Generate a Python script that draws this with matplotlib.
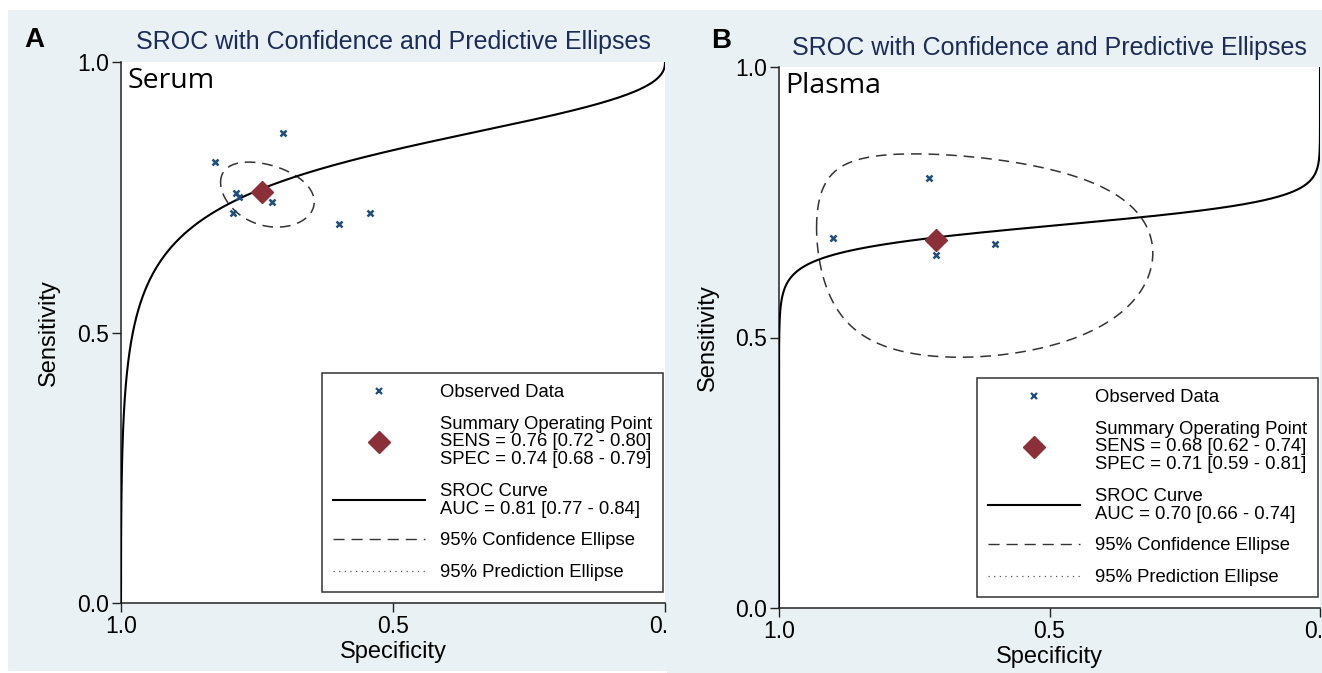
import numpy as np
import matplotlib
matplotlib.use("Agg")
from matplotlib import pyplot as plt
from matplotlib.lines import Line2D
from matplotlib.patches import Rectangle

plt.rcParams['font.family'] = ['Liberation Sans', 'DejaVu Sans']

# observed study data (specificity, sensitivity)
serum_spec = [0.703, 0.828, 0.789, 0.783, 0.741, 0.723, 0.795, 0.599, 0.542]
serum_sens = [0.869, 0.816, 0.757, 0.750, 0.752, 0.741, 0.720, 0.700, 0.720]
plasma_spec = [0.723, 0.901, 0.710, 0.601]
plasma_sens = [0.794, 0.683, 0.653, 0.673]

# summary operating points
serum_summary = (0.74, 0.76)
plasma_summary = (0.71, 0.68)

# SROC curve: logit(sens) = a + b * logit(1 - spec)
serum_sroc = (1.636, 0.43)
plasma_sroc = (0.877, 0.112)

# confidence ellipse in logit space: half-width spec, half-width sens, correlation
serum_ell = (0.45, 0.33, 0.30)
plasma_ell = (1.70, 0.90, 0.12)

serum_legend = ["Observed Data",
                "Summary Operating Point\nSENS = 0.76 [0.72 - 0.80]\nSPEC = 0.74 [0.68 - 0.79]",
                "SROC Curve\nAUC = 0.81 [0.77 - 0.84]",
                "95% Confidence Ellipse",
                "95% Prediction Ellipse"]
plasma_legend = ["Observed Data",
                 "Summary Operating Point\nSENS = 0.68 [0.62 - 0.74]\nSPEC = 0.71 [0.59 - 0.81]",
                 "SROC Curve\nAUC = 0.70 [0.66 - 0.74]",
                 "95% Confidence Ellipse",
                 "95% Prediction Ellipse"]

BG = '#e9f1f4'
NAVY = '#1c2b58'
BLUE = '#1f4e7a'
RED = '#8b3038'


def expit(z):
	return 1.0 / (1.0 + np.exp(-z))


def logit(p):
	return np.log(p / (1.0 - p))


def draw_panel(ax, spec, sens, summary, sroc, ell, labels, name):
	t = np.linspace(-60, 60, 6000)
	a, b = sroc
	ax.plot(1 - expit(t), expit(a + b * t), color='black', lw=1.5, zorder=3)

	ex, ey, rho = ell
	th = np.linspace(0, 2 * np.pi, 400)
	u, v = np.cos(th), np.sin(th)
	lx = logit(summary[0]) + ex * u
	ly = logit(summary[1]) + ey * (rho * u + np.sqrt(1 - rho ** 2) * v)
	ax.plot(expit(lx), expit(ly), color='#333333', lw=1.1, ls=(0, (7, 4.5)), zorder=2)

	ax.plot(spec, sens, ls='none', marker='x', color=BLUE, ms=5, mew=1.8, zorder=4)
	ax.plot([summary[0]], [summary[1]], ls='none', marker='D', color=RED, ms=11, zorder=5)

	ax.set_xlim(1, 0)
	ax.set_ylim(0, 1)
	ax.set_xticks([1.0, 0.5, 0.0], ['1.0', '0.5', '0.0'])
	ax.set_yticks([0.0, 0.5, 1.0], ['0.0', '0.5', '1.0'])
	ax.tick_params(direction='out', length=6.5, width=1.0, labelsize=16.5, pad=2, color='#222222')
	for s in ['top', 'right']:
		ax.spines[s].set_visible(False)
	for s in ['left', 'bottom']:
		ax.spines[s].set_linewidth(1.1)
		ax.spines[s].set_color('#222222')
	ax.set_xlabel('Specificity', fontsize=17)
	ax.set_ylabel('Sensitivity', fontsize=17)
	ax.xaxis.set_label_coords(0.5, -0.071)
	ax.yaxis.set_label_coords(-0.112, 0.5)
	ax.set_title('SROC with Confidence and Predictive Ellipses', color=NAVY, fontsize=18, pad=9)
	ax.text(0.012, 0.99, name, transform=ax.transAxes, ha='left', va='top',
	        fontsize=20.5, family='Open Sans', color='black')

	handles = [Line2D([], [], ls='none', marker='x', color=BLUE, ms=4, mew=1.6),
	           Line2D([], [], ls='none', marker='D', color=RED, ms=11),
	           Line2D([], [], color='black', lw=1.5),
	           Line2D([], [], color='#333333', lw=1.0, ls=(0, (8, 5))),
	           Line2D([], [], color='#555555', lw=0.9, ls=(0, (1, 3.5)))]
	leg = ax.legend(handles, labels, loc='lower right', bbox_to_anchor=(0.997, 0.02),
	                borderaxespad=0, fontsize=13.3, handlelength=5.0, handletextpad=0.8,
	                labelspacing=0.8, borderpad=0.6, fancybox=False, framealpha=1,
	                edgecolor='#333333')
	leg.get_frame().set_linewidth(1.1)
	for txt in leg.get_texts():
		txt.set_linespacing(1.05)
	return leg


fig = plt.figure(figsize=(13.22, 6.73), dpi=100)
W, H = 1322.0, 673.0
fig.patches.append(Rectangle((8 / W, 2 / H), 662 / W, 661 / H, transform=fig.transFigure,
                             facecolor=BG, edgecolor='none', zorder=-5))
fig.patches.append(Rectangle((667 / W, 0), 655 / W, 663 / H, transform=fig.transFigure,
                             facecolor=BG, edgecolor='none', zorder=1))

axA = fig.add_axes([121 / W, 70 / H, 544 / W, 541 / H])
axB = fig.add_axes([779 / W, 65 / H, 541 / W, 541 / H])
axB.set_zorder(2)

draw_panel(axA, serum_spec, serum_sens, serum_summary, serum_sroc, serum_ell, serum_legend, 'Serum')
draw_panel(axB, plasma_spec, plasma_sens, plasma_summary, plasma_sroc, plasma_ell, plasma_legend, 'Plasma')

fig.text(24 / W, 1 - 40 / H, 'A', fontsize=20, fontweight='bold', va='center', ha='left')
fig.text(711 / W, 1 - 41 / H, 'B', fontsize=20, fontweight='bold', va='center', ha='left')

fig.savefig('out.png', dpi=100)
